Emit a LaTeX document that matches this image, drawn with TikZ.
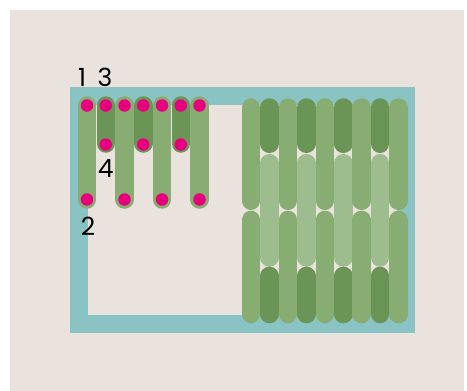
\documentclass[tikz,border=0pt]{standalone}
\usepackage{fontspec}
\setmainfont{Poppins}
\usepackage{xcolor}
\usetikzlibrary{positioning}
\definecolor{sand}{HTML}{EAE2DC}
\definecolor{frameteal}{HTML}{8AC3C3}
\definecolor{leafgreen}{HTML}{87AD73}
\definecolor{darkleaf}{HTML}{6B9457}
\definecolor{paleleaf}{HTML}{9DBD8E}
\definecolor{pinkdot}{HTML}{E6007E}
\tikzset{
    frame/.style = {draw=frameteal, line width=18pt},
    pill/.style = {line width=18.5pt, line cap=round},
    lightpill/.style = {pill, draw=leafgreen},
    darkpill/.style = {pill, draw=darkleaf},
    palepill/.style = {pill, draw=paleleaf},
    dot/.style = {circle, fill=pinkdot, inner sep=0pt, minimum size=12.5pt},
    num/.style = {inner sep=0pt, font=\fontsize{25}{25}\selectfont}
}

\begin{document}
\begin{tikzpicture}[x=1pt,y=-1pt]
  % Draw the background
  \fill[white] (0,0) rectangle (467,391);
  \fill[sand] (10,10) rectangle (464,391);
  \useasboundingbox (0,0) rectangle (467,391);

  % Draw the frame
  \draw[frame] (78.5,96) rectangle (406,324);

  % Draw the left pills
  \foreach \i in {1,3,5}
    \draw[darkpill] (87+18.75*\i,105.5) -- (87+18.75*\i,143.5);
  \foreach \i in {0,2,4,6}
    \draw[lightpill] (87+18.75*\i,105.5) -- (87+18.75*\i,199.5);

  % Draw the right pills
  \foreach \j in {1,3,5,7} {
    \draw[darkpill] (251+18.45*\j,107.5) -- (251+18.45*\j,143.8);
    \draw[palepill] (251+18.45*\j,163.2) -- (251+18.45*\j,257.5);
    \draw[darkpill] (251+18.45*\j,275.9) -- (251+18.45*\j,314.1);
  }
  \foreach \j in {0,2,4,6,8} {
    \draw[lightpill] (251+18.45*\j,107.5) -- (251+18.45*\j,200.8);
    \draw[lightpill] (251+18.45*\j,219.9) -- (251+18.45*\j,314.1);
  }

  % Draw the dots
  \foreach \i in {0,...,6}
    \node[dot] (top\i) at (87+18.75*\i,105.5) {};
  \foreach \i in {1,3,5}
    \node[dot] (mid\i) at (87+18.75*\i,144.5) {};
  \foreach \i in {0,2,4,6}
    \node[dot] (bot\i) at (87+18.75*\i,199.5) {};

  % Draw the labels
  \node[num] (one) at (82,77) {1};
  \node[num] (three) at (105,77) {3};
  \node[num] (four) at (105.7,169) {4};
  \node[num] (two) at (88,226) {2};
\end{tikzpicture}
\end{document}
